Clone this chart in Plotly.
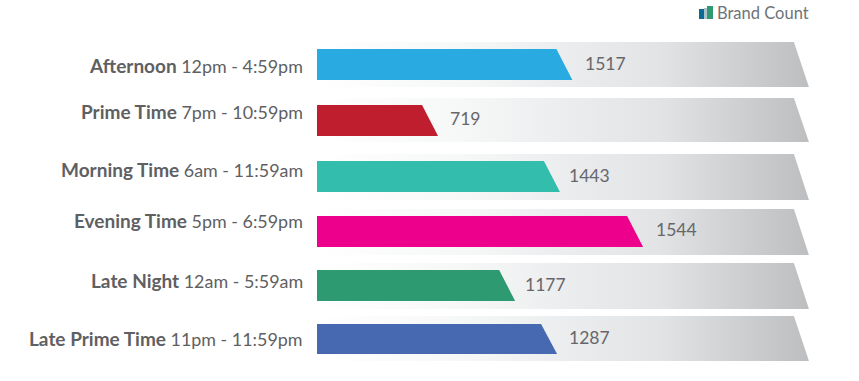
import plotly.graph_objects as go

# Data
periods = ["Afternoon", "Prime Time", "Morning Time", "Evening Time", "Late Night", "Late Prime Time"]
hours = ["12pm - 4:59pm", "7pm - 10:59pm", "6am - 11:59am", "5pm - 6:59pm", "12am - 5:59am", "11pm - 11:59pm"]
printed_counts = [1517, 719, 1443, 1544, 1177, 1287]
# The reference's bars are not all proportional to their printed numbers; lengths as drawn, in count units
drawn_counts = [1517, 719, 1443, 1937, 1177, 1426]
track_count = 2922
colors = ["#29ABE2", "#BE1E2D", "#33BDAD", "#EC008C", "#2E9A72", "#4669B2"]

# Layout (pixels)
W, H = 859, 381
X0 = 317
UNITS_PER_PX = 5.94
track_top = [42, 98, 154, 209, 263, 316]
track_bot = [87, 142, 200, 255, 309, 361]
bar_top = [49, 105, 161, 216, 270, 324]
bar_bot = [80, 136, 192, 247, 301, 354]
label_y = [65, 111, 169, 220, 280, 338]
value_y = [63, 118, 175, 229, 284, 337]
value_gap = [11, 10, 7, 11, 8, 10]
bar_slant = 16
track_slant = 15

fig = go.Figure()
for top, bot in zip(track_top, track_bot):
    fig.add_trace(go.Scatter(
        x=[0, track_count - track_slant * UNITS_PER_PX, track_count, 0, 0],
        y=[top, top, bot, bot, top],
        mode="lines", line=dict(width=0), fill="toself",
        fillgradient=dict(type="horizontal", colorscale=[
            [0, "#FFFFFF"], [0.3, "#F6F7F7"], [0.7, "#E2E3E5"], [1, "#BDBEC0"]]),
        hoverinfo="skip", showlegend=False))

for n, c, top, bot in zip(drawn_counts, colors, bar_top, bar_bot):
    fig.add_trace(go.Scatter(
        x=[0, n - bar_slant * UNITS_PER_PX, n, 0, 0],
        y=[top, top, bot, bot, top],
        mode="lines", line=dict(width=0), fill="toself", fillcolor=c,
        hoverinfo="skip", showlegend=False))

for p, h, y in zip(periods, hours, label_y):
    fig.add_annotation(x=0, y=y, xref="x", yref="y", xshift=-12, xanchor="right", yanchor="middle",
                       showarrow=False, align="right",
                       text=f'<span style="font-size:19px"><b>{p}</b></span> {h}',
                       font=dict(family="Lato", size=17.9, color="#5F6062"))

for n, v, y, g in zip(drawn_counts, printed_counts, value_y, value_gap):
    fig.add_annotation(x=n, y=y, xref="x", yref="y", xshift=g, xanchor="left", yanchor="middle",
                       showarrow=False, text=str(v),
                       font=dict(family="Lato", size=17.5, color="#66676A"))

# Legend
fig.add_annotation(x=715 / W, y=1 - 13 / H, xref="paper", yref="paper", xanchor="left", yanchor="middle",
                   showarrow=False, text="Brand Count",
                   font=dict(family="Lato", size=16.5, color="#6D7378"))
for (x0, x1, y0, c) in [(699, 704, 9, "#0B6A94"), (704, 707, 8, "#A9C4C8"), (707, 713, 6, "#2E9A72")]:
    fig.add_shape(type="rect", xref="paper", yref="paper",
                  x0=x0 / W, x1=x1 / W, y0=1 - 19 / H, y1=1 - y0 / H,
                  fillcolor=c, line_width=0)

fig.update_layout(
    width=W, height=H, margin=dict(l=0, r=0, t=0, b=0),
    paper_bgcolor="white", plot_bgcolor="white", showlegend=False,
    xaxis=dict(range=[-X0 * UNITS_PER_PX, (W - X0) * UNITS_PER_PX], visible=False, fixedrange=True),
    yaxis=dict(range=[H, 0], visible=False, fixedrange=True),
)
fig.write_html("out.html", config={"displayModeBar": False},
               post_script="document.body.style.margin='0';document.body.style.overflow='hidden';")
